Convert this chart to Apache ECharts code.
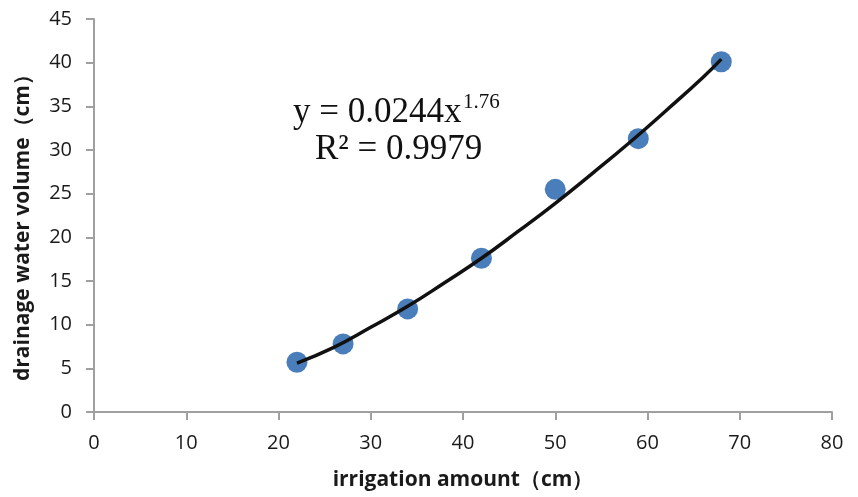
<!DOCTYPE html>
<html><head><meta charset="utf-8">
<script src="https://cdn.jsdelivr.net/npm/echarts@6/dist/echarts.min.js"></script>
<style>html,body{margin:0;padding:0;background:#fff}#c{width:858px;height:497px}</style>
</head><body><div id="c"></div>
<script>
// Observed data points (irrigation amount, drainage water volume)
const irrigation = [22, 27, 34, 42, 50, 59, 68];
const drainage = [5.7, 7.8, 11.8, 17.6, 25.5, 31.3, 40.1];
// Trend curve
const trendX = [22, 26, 30, 34, 38, 42, 46, 50, 54, 58, 62, 66, 68];
const trendY = [5.6, 7.4, 9.7, 12.1, 14.8, 17.6, 20.7, 23.9, 27.3, 30.8, 34.5, 38.3, 40.4];
const xTicks = [0, 10, 20, 30, 40, 50, 60, 70, 80];
const yTicks = [0, 5, 10, 15, 20, 25, 30, 35, 40, 45];
const xName = 'irrigation amount（cm）';
const yName = 'drainage water volume（cm）';
const eqLine1 = 'y = 0.0244x';
const eqExp = '1.76';
const eqLine2 = 'R² = 0.9979';

const chart = echarts.init(document.getElementById('c'), null, {renderer: 'canvas'});
const axisCommon = {
  axisLine: {show: true, lineStyle: {color: '#a0a0a0', width: 2}},
  axisTick: {show: true, length: 8, lineStyle: {color: '#a0a0a0', width: 2}},
  splitLine: {show: false},
  axisLabel: {color: '#1a1a1a', fontFamily: 'Open Sans', fontSize: 20}
};
const nameStyle = {fontFamily: 'Open Sans', fontWeight: 'bold', fontSize: 21, color: '#1a1a1a'};
chart.setOption({
  animation: false,
  grid: {left: 94, right: 26, top: 19, bottom: 85, containLabel: false},
  xAxis: Object.assign({}, axisCommon, {
    type: 'value', min: xTicks[0], max: xTicks[xTicks.length - 1], interval: 10,
    name: xName, nameLocation: 'middle', nameGap: 58,
    nameTextStyle: nameStyle,
    axisLabel: Object.assign({}, axisCommon.axisLabel, {margin: 21})
  }),
  yAxis: Object.assign({}, axisCommon, {
    type: 'value', min: yTicks[0], max: yTicks[yTicks.length - 1], interval: 5,
    name: yName, nameLocation: 'middle', nameGap: 60,
    nameTextStyle: Object.assign({}, nameStyle, {padding: [0, 14, 0, 0]}),
    axisLabel: Object.assign({}, axisCommon.axisLabel, {margin: 22})
  }),
  series: [
    {
      type: 'scatter', symbol: 'circle', symbolSize: 21,
      itemStyle: {color: '#4a7ebb', opacity: 1},
      data: irrigation.map((x, i) => [x, drainage[i]]), z: 2
    },
    {
      type: 'line', smooth: true, showSymbol: false, symbol: 'none',
      lineStyle: {color: '#111', width: 3.5},
      data: trendX.map((x, i) => [x, trendY[i]]), z: 3
    }
  ],
  graphic: [
    {
      type: 'text', left: 293, top: 95,
      style: {text: eqLine1, fontFamily: 'Liberation Serif', fontSize: 35, fill: '#111'}
    },
    {
      type: 'text', left: 463, top: 92,
      style: {text: eqExp, fontFamily: 'Liberation Serif', fontSize: 21, fill: '#111'}
    },
    {
      type: 'text', left: 315, top: 132,
      style: {text: eqLine2, fontFamily: 'Liberation Serif', fontSize: 35, fill: '#111'}
    }
  ]
});
</script></body></html>
